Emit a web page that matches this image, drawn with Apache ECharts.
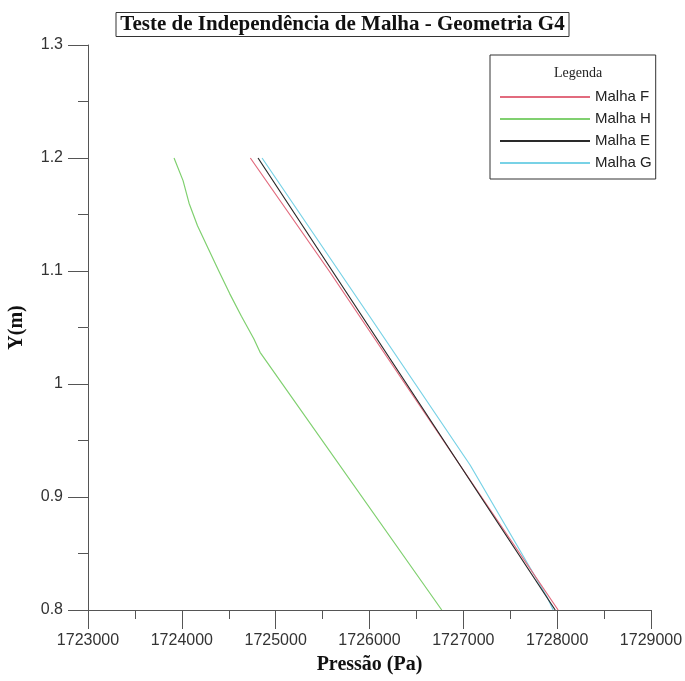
<!DOCTYPE html>
<html>
<head>
<meta charset="utf-8">
<script src="https://cdn.jsdelivr.net/npm/echarts@6/dist/echarts.min.js"></script>
<style>html,body{margin:0;padding:0;background:#fff;}#c{width:685px;height:681px;}</style>
</head>
<body>
<div id="c"></div>
<script>
// Data
const seriesNames = ['Malha F', 'Malha H', 'Malha E', 'Malha G'];

const malhaF_Y = [1.2, 1.1, 1.0, 0.9, 0.8];
const malhaF_X = [1724730, 1725570, 1726380, 1727194, 1728010];

const malhaH_Y = [1.2, 1.18, 1.16, 1.14, 1.12, 1.10, 1.08, 1.06, 1.04, 1.028, 0.8];
const malhaH_X = [1723917, 1724013, 1724077, 1724167, 1724281, 1724394, 1724510, 1724635, 1724767, 1724834, 1726770];

const malhaE_Y = [1.2, 1.1, 1.0, 0.9, 0.8];
const malhaE_X = [1724812, 1725604, 1726396, 1727187, 1727979];

const malhaG_Y = [1.2, 1.0593, 0.9283, 0.8115, 0.8];
const malhaG_X = [1724855, 1726006, 1727072, 1727893, 1727957];

const xTicks = {min: 1723000, max: 1729000, interval: 1000};
const yTicks = {min: 0.8, max: 1.3, interval: 0.1};

const colors = ['#e26b7e', '#80d070', '#2a2a2a', '#78d2e6'];

function pairs(xs, ys) { return xs.map((x, i) => [x, ys[i]]); }
const allData = [
  pairs(malhaF_X, malhaF_Y),
  pairs(malhaH_X, malhaH_Y),
  pairs(malhaE_X, malhaE_Y),
  pairs(malhaG_X, malhaG_Y)
];

const axisColor = '#555';
const chart = echarts.init(document.getElementById('c'));
chart.setOption({
  animation: false,
  backgroundColor: '#fff',
  title: [{
    text: 'Teste de Independência de Malha - Geometria G4',
    left: 'center',
    top: 12,
    padding: [2, 5, 2, 5],
    borderColor: '#333',
    borderWidth: 1,
    textStyle: {fontFamily: 'Liberation Serif', fontWeight: 'bold', fontSize: 21, color: '#111'}
  }, {
    text: 'Legenda',
    left: 554,
    top: 66,
    padding: 0,
    textStyle: {fontFamily: 'Liberation Serif', fontWeight: 'normal', fontSize: 14, color: '#222'}
  }],
  legend: {
    show: true,
    orient: 'vertical',
    left: 490,
    top: 55,
    padding: [33, 4, 7, 10],
    borderColor: '#333',
    borderWidth: 1,
    icon: 'rect',
    itemWidth: 90,
    itemHeight: 2,
    itemGap: 4,
    data: seriesNames,
    textStyle: {fontFamily: 'Liberation Sans', fontSize: 15, color: '#222', lineHeight: 18}
  },
  grid: {left: 88, right: 34, top: 45, bottom: 71, outerBoundsMode: 'none', containLabel: false},
  xAxis: {
    type: 'value',
    min: xTicks.min, max: xTicks.max, interval: xTicks.interval,
    name: 'Pressão (Pa)',
    nameLocation: 'middle',
    nameGap: 45,
    nameTextStyle: {fontFamily: 'Liberation Serif', fontWeight: 'bold', fontSize: 20, color: '#111'},
    axisLine: {show: true, lineStyle: {color: axisColor, width: 1}},
    axisTick: {show: true, inside: false, length: 19, lineStyle: {color: axisColor}},
    minorTick: {show: true, splitNumber: 2, length: 9, lineStyle: {color: axisColor}},
    splitLine: {show: false},
    axisLabel: {margin: 23, fontFamily: 'Liberation Sans', fontSize: 16, color: '#333', formatter: v => String(v)}
  },
  yAxis: {
    type: 'value',
    min: yTicks.min, max: yTicks.max, interval: yTicks.interval,
    name: 'Y(m)',
    nameLocation: 'middle',
    nameRotate: 90,
    nameGap: 61,
    nameTextStyle: {fontFamily: 'Liberation Serif', fontWeight: 'bold', fontSize: 20, color: '#111'},
    axisLine: {show: true, lineStyle: {color: axisColor, width: 1}},
    axisTick: {show: true, inside: false, length: 20, lineStyle: {color: axisColor}},
    minorTick: {show: true, splitNumber: 2, length: 10, lineStyle: {color: axisColor}},
    splitLine: {show: false},
    axisLabel: {margin: 25, fontFamily: 'Liberation Sans', fontSize: 16, color: '#333', formatter: v => String(+v.toFixed(2))}
  },
  series: seriesNames.map((n, i) => ({
    name: n,
    type: 'line',
    data: allData[i],
    symbol: 'none',
    itemStyle: {color: colors[i]},
    lineStyle: {color: colors[i], width: 1.2},
    z: [3, 2, 4, 1][i]
  }))
});
</script>
</body>
</html>
